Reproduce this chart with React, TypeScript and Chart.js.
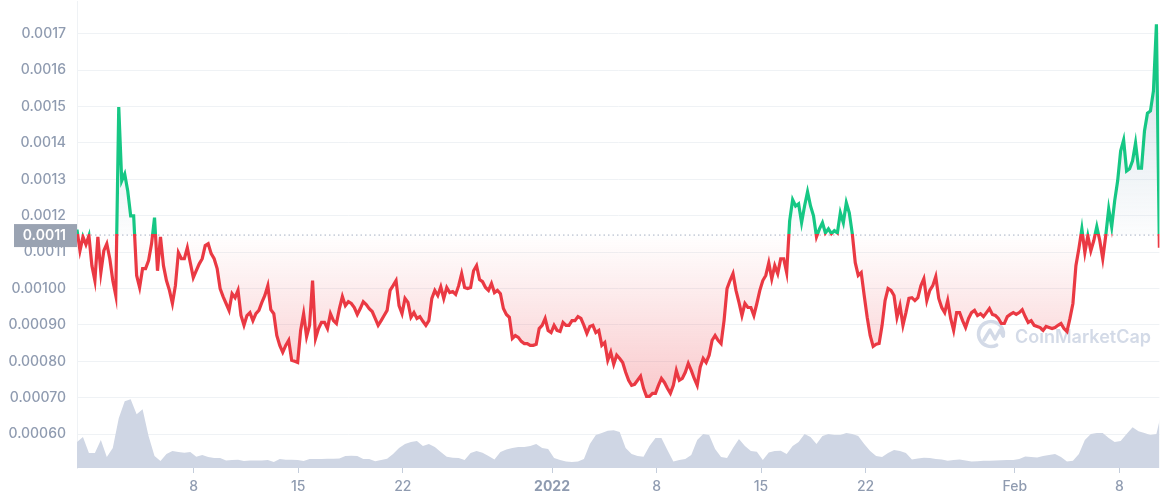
import { useEffect, useRef } from "react";
import { Chart, registerables } from "chart.js";

Chart.register(...registerables);

// x axis is in days counted from 1 Dec 2021
const firstDay = -0.823;
const lastDay = 71.686;
const xTickDays = [7, 14, 21, 31, 38, 45, 52, 62, 69];
const xTickLabels = ["8", "15", "22", "2022", "8", "15", "22", "Feb", "8"];

const yTickValues = [0.0006, 0.0007, 0.0008, 0.0009, 0.001, 0.0011, 0.0012, 0.0013, 0.0014, 0.0015, 0.0016, 0.0017];
const yTickLabels = ["0.00060", "0.00070", "0.00080", "0.00090", "0.00100", "0.0011", "0.0012", "0.0013", "0.0014", "0.0015", "0.0016", "0.0017"];

const baselinePrice = 0.001147;
const baselineLabel = "0.0011";

// price in millionths of a dollar, evenly spaced over the axis
const priceMicro = [
  1162, 1104, 1142, 1121, 1145, 1063, 1022, 1142, 1044, 1104,
  1123, 1082, 1022, 981, 1499, 1296, 1315, 1269, 1200, 1200,
  1036, 1003, 1055, 1055, 1077, 1123, 1195, 1049, 1142, 1063,
  1022, 995, 959, 1008, 1099, 1082, 1082, 1112, 1071, 1030,
  1049, 1068, 1082, 1118, 1123, 1096, 1082, 1055, 1000, 978,
  959, 940, 986, 975, 995, 926, 899, 926, 934, 912,
  931, 940, 962, 981, 1008, 942, 931, 871, 844, 825,
  844, 858, 803, 800, 797, 885, 931, 868, 899, 1022,
  863, 890, 907, 907, 890, 931, 912, 904, 945, 978,
  953, 964, 959, 948, 929, 945, 964, 956, 945, 937,
  918, 899, 912, 926, 940, 995, 1008, 1022, 953, 931,
  973, 962, 921, 934, 918, 923, 910, 899, 912, 973,
  995, 981, 1005, 973, 1003, 989, 992, 984, 1008, 1041,
  1003, 1000, 1003, 1049, 1063, 1025, 1019, 1003, 995, 1014,
  989, 995, 986, 945, 929, 921, 863, 871, 866, 855,
  849, 849, 844, 844, 847, 890, 899, 918, 885, 879,
  899, 885, 882, 907, 899, 899, 912, 912, 923, 918,
  899, 877, 896, 899, 879, 885, 844, 852, 803, 825,
  792, 817, 808, 797, 770, 748, 734, 737, 748, 759,
  726, 704, 704, 712, 712, 734, 753, 742, 726, 712,
  734, 775, 748, 753, 770, 794, 775, 753, 734, 784,
  808, 797, 817, 858, 871, 858, 849, 912, 1000, 1022,
  1041, 995, 962, 926, 959, 948, 948, 926, 959, 995,
  1022, 1036, 1071, 1027, 1063, 1041, 1082, 1082, 1044, 1186,
  1244, 1227, 1233, 1181, 1227, 1266, 1227, 1200, 1142, 1164,
  1181, 1153, 1164, 1151, 1159, 1153, 1208, 1181, 1236, 1208,
  1151, 1071, 1036, 1044, 981, 921, 871, 841, 847, 849,
  899, 967, 1000, 995, 981, 921, 953, 899, 934, 973,
  975, 967, 975, 1008, 1027, 967, 995, 1008, 1033, 973,
  948, 934, 967, 918, 885, 934, 934, 912, 893, 918,
  934, 940, 926, 931, 923, 934, 945, 929, 926, 918,
  904, 904, 923, 929, 934, 929, 934, 942, 923, 907,
  912, 899, 896, 893, 885, 896, 893, 890, 893, 899,
  904, 890, 882, 918, 959, 1063, 1110, 1164, 1099, 1145,
  1104, 1132, 1170, 1132, 1082, 1145, 1219, 1170, 1241, 1296,
  1378, 1408, 1323, 1329, 1351, 1400, 1331, 1331, 1433, 1482,
  1488, 1543, 1726, 1112,
];

// traded volume in millions, one value for every two price samples
const volumeMillions = [
  13, 15.5, 7.5, 7.5, 14, 5.5, 10, 25, 33.5, 34.5, 27, 29.5, 16, 6, 3.5, 7, 8.5, 8, 7.7, 8,
  5.7, 6.5, 5.5, 5, 5, 3.8, 4, 4.2, 3.5, 3.8, 3.8, 3.8, 4, 3, 4.5, 4.2, 4.2, 4, 3.5, 4.5,
  4.5, 4.5, 4.6, 4.6, 4.8, 6, 6.2, 6, 4.5, 4.5, 3.4, 4, 4.7, 7, 10, 12, 13, 13.5, 11, 12,
  10.5, 8, 5.7, 5.2, 5, 4, 7.5, 8.5, 7.7, 6, 4.3, 8, 9.3, 10, 10.5, 10.5, 11, 12, 10, 9.5,
  5, 4, 3.2, 3, 3.2, 4.5, 12, 16.5, 17.5, 18.7, 19, 18, 10, 7, 6, 5.7, 11, 15, 15, 9,
  3.3, 4, 4.5, 6.5, 14, 17, 16.5, 9.5, 5.5, 5, 10, 14.5, 11, 8.5, 8.2, 4, 7.8, 8.5, 8.7, 7,
  11, 13, 17, 15.5, 12, 16, 17, 16.5, 16.5, 17.5, 17, 16, 12, 8.5, 6, 5.5, 7.5, 9, 8.5, 7.5,
  4.3, 4.8, 5.2, 5, 4.5, 4.3, 3.6, 4, 4.3, 3.8, 3.2, 3.4, 3.6, 3.7, 3.8, 3.9, 4, 4, 4.5, 5.8,
  5.5, 5.3, 6, 6.5, 7, 5.5, 3.2, 3.6, 7, 14, 17, 17.5, 17.5, 15, 13, 13.5, 17, 20.5, 18.5, 17.5,
  16.5, 17, 30,
];

const RED = "#ea3943";
const GREEN = "#16c784";
const TICK_COLOR = "#8f9bb0";
const GRID_COLOR = "#eff2f5";
const VOLUME_COLOR = "#cfd6e4";
const FONT = "Inter";

const dayStep = (lastDay - firstDay) / (priceMicro.length - 1);
const pricePoints = priceMicro.map((v, i) => ({ x: firstDay + i * dayStep, y: v / 1e6 }));
const volumePoints = volumeMillions.map((v, i) => ({ x: firstDay + i * 2 * dayStep, y: v }));

// the grey price tag on the axis
const baselineTag = {
  id: "baselineTag",
  afterDraw(chart: any) {
    const { ctx } = chart;
    const y = chart.scales.y.getPixelForValue(baselinePrice);
    ctx.save();
    ctx.fillStyle = "#9aa3b2";
    ctx.fillRect(14, y - 11, 63, 23);
    ctx.fillStyle = "#ffffff";
    ctx.font = `600 14px ${FONT}`;
    ctx.textAlign = "right";
    ctx.textBaseline = "middle";
    ctx.fillText(baselineLabel, 66, y + 0.5);
    ctx.restore();
  },
};

// watermark goes under the lines
const watermark = {
  id: "watermark",
  beforeDatasetsDraw(chart: any) {
    const { ctx } = chart;
    ctx.save();
    ctx.strokeStyle = "#d3dae7";
    ctx.lineWidth = 3.5;
    ctx.lineCap = "round";
    ctx.lineJoin = "round";
    ctx.beginPath();
    ctx.arc(991, 334, 12.5, Math.PI * 0.35, Math.PI * 2.05);
    ctx.stroke();
    ctx.beginPath();
    ctx.moveTo(984, 340);
    ctx.lineTo(990, 330);
    ctx.lineTo(995, 339);
    ctx.lineTo(1000, 330);
    ctx.lineTo(1003, 336);
    ctx.stroke();
    ctx.fillStyle = "#d3dae7";
    ctx.font = `600 18px ${FONT}`;
    ctx.textAlign = "left";
    ctx.textBaseline = "alphabetic";
    ctx.fillText("CoinMarketCap", 1015, 343);
    ctx.restore();
  },
};

const App = () => {
  const chartRef = useRef<HTMLCanvasElement | null>(null);

  useEffect(() => {
    document.body.style.margin = "0";
    if (!chartRef.current) return;

    const myChart = new Chart(chartRef.current, {
      type: "line",
      data: {
        datasets: [
          {
            label: "Price",
            data: pricePoints,
            yAxisID: "y",
            borderColor: RED,
            borderWidth: 3.2,
            pointRadius: 0,
            tension: 0,
            order: 1,
            fill: { target: { value: baselinePrice } },
          },
          {
            label: "Baseline",
            data: [
              { x: firstDay, y: baselinePrice },
              { x: lastDay, y: baselinePrice },
            ],
            yAxisID: "y",
            borderColor: "#a6b0c3",
            borderWidth: 1,
            borderDash: [1.5, 3],
            pointRadius: 0,
            order: 2,
          },
          {
            label: "Volume",
            data: volumePoints,
            yAxisID: "volume",
            borderWidth: 0,
            backgroundColor: VOLUME_COLOR,
            pointRadius: 0,
            tension: 0,
            fill: "origin",
            order: 3,
          },
        ],
      } as any,
      options: {
        responsive: false,
        animation: false,
        layout: { padding: 0 },
        plugins: {
          legend: { display: false },
          tooltip: { enabled: false },
        },
        scales: {
          x: {
            type: "linear",
            min: firstDay,
            max: lastDay,
            afterBuildTicks: (axis: any) => {
              axis.ticks = xTickDays.map((value) => ({ value }));
            },
            afterFit: (axis: any) => {
              axis.height = 32;
            },
            grid: {
              drawOnChartArea: false,
              tickColor: "#c4cddb",
              tickLength: 5,
            },
            border: { display: false },
            ticks: {
              autoSkip: false,
              maxRotation: 0,
              padding: 5,
              color: TICK_COLOR,
              font: (ctx: any) => ({
                family: FONT,
                size: 14,
                weight: ctx.tick && ctx.tick.label === "2022" ? 700 : 500,
              }),
              callback: (_v: any, index: number) => xTickLabels[index],
            },
          },
          y: {
            min: 0.000507,
            max: 0.0017885,
            afterBuildTicks: (axis: any) => {
              axis.ticks = yTickValues.map((value) => ({ value }));
            },
            afterFit: (axis: any) => {
              axis.width = 77;
              axis.paddingTop = 0;
              axis.paddingBottom = 0;
            },
            grid: { color: GRID_COLOR, drawTicks: false },
            border: { color: GRID_COLOR },
            ticks: {
              autoSkip: false,
              padding: 11,
              color: TICK_COLOR,
              font: { family: FONT, size: 14, weight: 500 },
              callback: (_v: any, index: number) => yTickLabels[index],
            },
          },
          volume: {
            display: false,
            min: 0,
            max: 234,
          },
        },
      },
      plugins: [watermark, baselineTag],
    });

    // colours that split at the baseline need the laid out pixel positions
    const baseY = myChart.scales.y.getPixelForValue(baselinePrice);
    const { top, bottom } = myChart.chartArea;
    const split = (baseY - top) / (bottom - top);
    const ctx = myChart.ctx;

    const lineGradient = ctx.createLinearGradient(0, top, 0, bottom);
    lineGradient.addColorStop(0, GREEN);
    lineGradient.addColorStop(split, GREEN);
    lineGradient.addColorStop(split, RED);
    lineGradient.addColorStop(1, RED);

    const aboveFill = ctx.createLinearGradient(0, baseY, 0, top + 20);
    aboveFill.addColorStop(0, "rgba(190, 208, 220, 0.05)");
    aboveFill.addColorStop(1, "rgba(190, 208, 220, 0.7)");

    const belowFill = ctx.createLinearGradient(0, baseY, 0, 400);
    belowFill.addColorStop(0, "rgba(234, 57, 67, 0)");
    belowFill.addColorStop(1, "rgba(234, 57, 67, 0.28)");

    const priceSet: any = myChart.data.datasets[0];
    priceSet.borderColor = lineGradient;
    priceSet.fill = { target: { value: baselinePrice }, above: aboveFill, below: belowFill };
    myChart.update("none");

    // Cleanup chart on component unmount
    return () => {
      myChart.destroy();
    };
  }, []);

  return (
    <div style={{ width: 1161, height: 500 }}>
      <canvas ref={chartRef} width="1161" height="500" style={{ display: "block" }}></canvas>
    </div>
  );
};

export default App;
